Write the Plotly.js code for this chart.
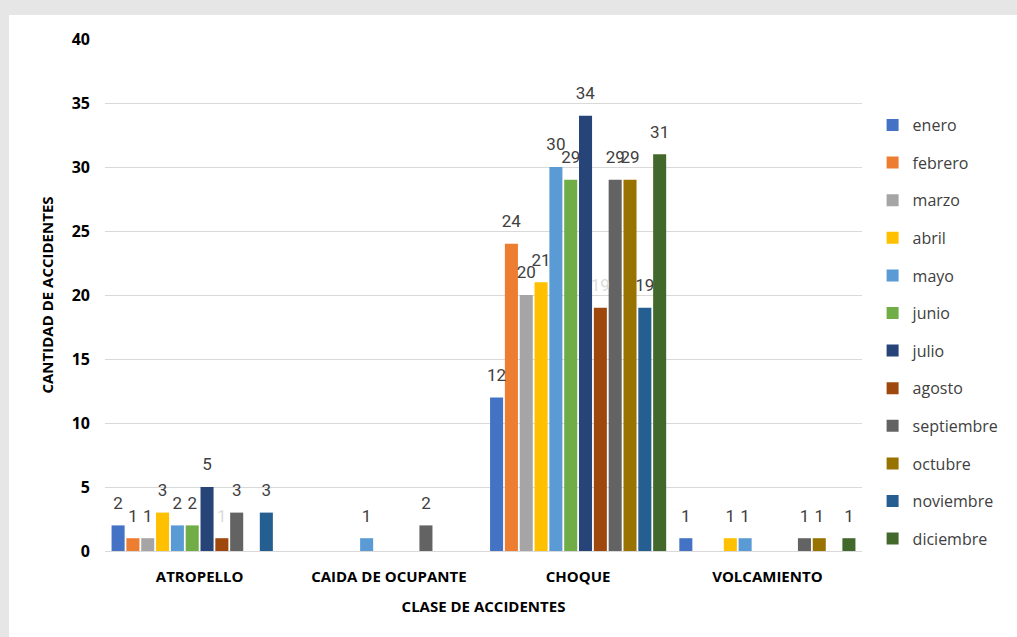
<!DOCTYPE html>
<html>
<head>
<meta charset="utf-8">
<script src="https://cdn.plot.ly/plotly-3.0.1.min.js"></script>
<style>
html,body{margin:0;padding:0;background:#e6e6e6;width:1017px;height:637px;overflow:hidden;}
#chart{position:absolute;left:9px;top:15px;width:1008px;height:622px;background:#fff;}
</style>
</head>
<body>
<div id="chart"></div>
<script>
const categories = ["ATROPELLO", "CAIDA DE OCUPANTE", "CHOQUE", "VOLCAMIENTO"];
const months = ["enero","febrero","marzo","abril","mayo","junio","julio","agosto","septiembre","octubre","noviembre","diciembre"];
const enero      = [2, 0, 12, 1];
const febrero    = [1, 0, 24, 0];
const marzo      = [1, 0, 20, 0];
const abril      = [3, 0, 21, 1];
const mayo       = [2, 1, 30, 1];
const junio      = [2, 0, 29, 0];
const julio      = [5, 0, 34, 0];
const agosto     = [1, 0, 19, 0];
const septiembre = [3, 2, 29, 1];
const octubre    = [0, 0, 29, 1];
const noviembre  = [3, 0, 19, 0];
const diciembre  = [0, 0, 31, 1];
const series = [enero,febrero,marzo,abril,mayo,junio,julio,agosto,septiembre,octubre,noviembre,diciembre];
const colors = ["#4472C4","#ED7D31","#A5A5A5","#FFC000","#5B9BD5","#70AD47","#264478","#9E480E","#636363","#997300","#255E91","#43682B"];

const font = "Open Sans, Liberation Sans, sans-serif";
const labelFont = "Liberation Sans Narrow, Roboto, sans-serif";

// visible bars
const barTraces = months.map((m, i) => ({
  type: "bar",
  name: m,
  x: categories,
  y: series[i],
  marker: {color: colors[i]},
  legendgroup: m,
  xaxis: "x", yaxis: "y"
}));

// transparent companion bars carrying the value labels (drawn on an overlaid,
// slightly shifted axis so the labels sit a little higher above each bar)
const labelTraces = months.map((m, i) => ({
  type: "bar",
  name: m,
  x: categories,
  y: series[i],
  text: series[i].map(v => v === 0 ? "" : String(v)),
  textposition: "outside",
  constraintext: "none",
  cliponaxis: false,
  textfont: {family: labelFont, size: 17, color: m === "agosto" ? "#dcdcdc" : "#404040"},
  marker: {color: "rgba(0,0,0,0)"},
  showlegend: false,
  legendgroup: m,
  xaxis: "x", yaxis: "y2"
}));

const layout = {
  width: 1008, height: 622,
  paper_bgcolor: "#ffffff", plot_bgcolor: "#ffffff",
  margin: {l: 96, r: 155, t: 24, b: 86},
  barmode: "group",
  bargap: 0.06,
  bargroupgap: 0.12,
  font: {family: font, size: 14, color: "#404040"},
  showlegend: true,
  legend: {
    x: 1.014, xanchor: "left", y: 0.865, yanchor: "top",
    font: {family: font, size: 16, color: "#404040"},
    tracegroupgap: 13.8,
    traceorder: "grouped",
    itemwidth: 30,
    bgcolor: "rgba(0,0,0,0)"
  },
  xaxis: {
    type: "category",
    showgrid: false,
    showline: true, linecolor: "#d9d9d9", linewidth: 1,
    ticks: "",
    tickfont: {family: font, size: 15, color: "#000000", weight: "bold"},
    ticklabelstandoff: 12,
    title: {text: "<b>CLASE DE ACCIDENTES</b>", font: {family: font, size: 15, color: "#000000"}, standoff: 16},
    automargin: false
  },
  yaxis: {
    range: [0, 40], dtick: 5,
    showgrid: true, gridcolor: "#d9d9d9", gridwidth: 1,
    zeroline: false,
    showline: false,
    ticks: "",
    tickfont: {family: font, size: 16, color: "#000000", weight: "bold"},
    ticklabelstandoff: 14,
    title: {text: "<b>CANTIDAD DE ACCIDENTES</b>", font: {family: font, size: 15, color: "#000000"}, standoff: 14},
    automargin: false
  },
  yaxis2: {
    overlaying: "y",
    range: [-0.75, 39.25],
    visible: false,
    showgrid: false,
    zeroline: false
  }
};

Plotly.newPlot("chart", barTraces.concat(labelTraces), layout, {displayModeBar: false, staticPlot: true});
</script>
</body>
</html>
